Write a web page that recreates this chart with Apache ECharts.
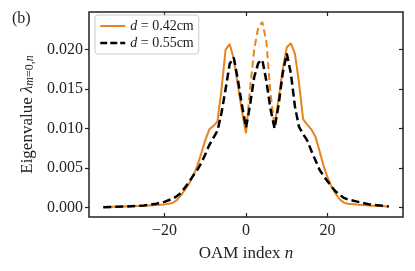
<!DOCTYPE html>
<html><head><meta charset="utf-8">
<script src="https://cdn.jsdelivr.net/npm/echarts@6/dist/echarts.min.js"></script>
<style>html,body{margin:0;padding:0;background:#fff}#c{width:415px;height:271px}</style>
</head><body><div id="c"></div>
<script>
// OAM index n
const nValues = [-35,-30,-25,-22,-20,-19,-18,-17,-16,-15,-14,-13,-12,-11,-10,-9,-8,-7,-6,-5,-4,-3,-2,-1,0,1,2,3,4,5,6,7,8,9,10,11,12,13,14,15,16,17,18,19,20,21,22,23,24,25,27,30,35];
// d = 0.42cm (solid part)
const d042 = [0.00005,0.0001,0.0002,0.0003,0.00038,0.00045,0.00055,0.0009,0.0015,0.0022,0.0030,0.0039,0.0052,0.0068,0.0085,0.0099,0.0103,0.0109,0.0150,0.0200,0.0207,0.0188,0.0155,0.0122,0.0094,null,null,null,null,null,null,0.0103,0.0138,0.0175,0.0203,0.0208,0.0195,0.0158,0.0112,0.0105,0.0099,0.0090,0.0072,0.0053,0.0038,0.0026,0.0017,0.0010,0.0006,0.00045,0.00035,0.00025,0.00012];
// d = 0.42cm (dashed central part)
const d042Center = [null,null,null,null,null,null,null,null,null,null,null,null,null,null,null,null,null,null,null,null,null,null,null,null,0.0094,0.0150,0.0200,0.0228,0.0235,0.0210,0.0145,0.0103,null,null,null,null,null,null,null,null,null,null,null,null,null,null,null,null,null,null,null,null,null];
// d = 0.55cm
const d055 = [0.00003,0.0001,0.00025,0.00047,0.0007,0.0009,0.0011,0.0014,0.0018,0.0025,0.0032,0.0040,0.0047,0.0056,0.0067,0.0079,0.0088,0.0097,0.0120,0.0150,0.0182,0.0190,0.0162,0.0130,0.0101,0.0130,0.0165,0.0183,0.0187,0.0160,0.0125,0.0100,0.0130,0.0170,0.0195,0.0170,0.0128,0.0102,0.0093,0.0085,0.0072,0.0060,0.0048,0.0040,0.0033,0.0026,0.0020,0.0016,0.0012,0.0010,0.00076,0.0004,0.00012];
const xTicks = [-20, 0, 20];
const yTicks = [0, 0.005, 0.010, 0.015, 0.020];
const seriesNames = ['d042', 'd055'];
const legendLabels = {d042: '{i|d} = 0.42cm', d055: '{i|d} = 0.55cm'};

const ORANGE = '#e8831f';
const FONT = 'Liberation Serif';
const pairs = arr => nValues.map((n, i) => [n, arr[i]]);

const chart = echarts.init(document.getElementById('c'), null, {renderer: 'canvas'});
const xRange = {min: -38.5, max: 38.5};
const yRange = {min: -0.00122, max: 0.02477};
const tickLbl = {fontFamily: FONT, fontSize: 16, color: '#222'};
const noLine = {show: false, onZero: false};

chart.setOption({
  animation: false,
  backgroundColor: '#fff',
  grid: {left: 89, right: 12, top: 12, bottom: 54, show: true, borderColor: '#222', borderWidth: 1.5, backgroundColor: 'transparent'},
  graphic: [{type: 'text', left: 12, top: 11, style: {text: '(b)', fontFamily: FONT, fontSize: 16, fill: '#222'}}],
  legend: {
    data: [
      {name: seriesNames[0], lineStyle: {color: ORANGE, width: 2, type: 'solid'}},
      {name: seriesNames[1], lineStyle: {color: '#000', width: 2.5, type: [7, 3]}}
    ],
    orient: 'vertical', left: 95, top: 15,
    padding: [4, 5, 4, 4], itemGap: 3, itemWidth: 25, itemHeight: 14,
    itemStyle: {color: 'rgba(0,0,0,0)', borderColor: 'rgba(0,0,0,0)', borderWidth: 0},
    borderColor: '#cccccc', borderWidth: 1, borderRadius: 3, backgroundColor: 'rgba(255,255,255,0.85)',
    formatter: name => legendLabels[name],
    textStyle: {fontFamily: FONT, fontSize: 14, color: '#222',
      rich: {i: {fontFamily: FONT, fontStyle: 'italic', fontSize: 14, color: '#222'}}}
  },
  xAxis: [{
    type: 'value', ...xRange, position: 'bottom',
    name: '{r|OAM index }{i|n}', nameLocation: 'middle', nameGap: 28,
    nameTextStyle: {rich: {r: {fontFamily: FONT, fontSize: 17, color: '#222'}, i: {fontFamily: FONT, fontStyle: 'italic', fontSize: 17, color: '#222'}}},
    axisLine: noLine, splitLine: {show: false},
    axisTick: {inside: true, length: 4, lineStyle: {color: '#222', width: 1.2}, customValues: xTicks},
    axisLabel: {...tickLbl, margin: 6, customValues: xTicks, formatter: v => (v < 0 ? '\u2212' + Math.abs(v) : String(v))}
  }, {
    type: 'value', ...xRange, position: 'top',
    axisLine: noLine, splitLine: {show: false}, axisLabel: {show: false},
    axisTick: {inside: true, length: 4, lineStyle: {color: '#222', width: 1.2}, customValues: xTicks}
  }],
  yAxis: [{
    type: 'value', ...yRange, position: 'left',
    name: '{r|Eigenvalue }{i|\u03bb}{s|m}{t|=0,}{s|n}', nameLocation: 'middle', nameRotate: 90, nameGap: 52,
    nameTextStyle: {rich: {
      r: {fontFamily: FONT, fontSize: 17, color: '#222'},
      i: {fontFamily: FONT, fontStyle: 'italic', fontSize: 17, color: '#222'},
      s: {fontFamily: FONT, fontStyle: 'italic', fontSize: 12, color: '#222', padding: [6, 0, 0, 0]},
      t: {fontFamily: FONT, fontSize: 12, color: '#222', padding: [6, 0, 0, 0]}
    }},
    axisLine: noLine, splitLine: {show: false},
    axisTick: {inside: false, length: 4, lineStyle: {color: '#222', width: 1.2}, customValues: yTicks},
    axisLabel: {...tickLbl, margin: 6, customValues: yTicks, formatter: v => v.toFixed(3)}
  }, {
    type: 'value', ...yRange, position: 'right',
    axisLine: noLine, splitLine: {show: false}, axisLabel: {show: false},
    axisTick: {inside: true, length: 4, lineStyle: {color: '#222', width: 1.2}, customValues: yTicks}
  }],
  series: [{
    name: 'd042', type: 'line', data: pairs(d042), showSymbol: false, symbol: 'none', connectNulls: false,
    lineStyle: {color: ORANGE, width: 2}, itemStyle: {color: ORANGE}, z: 2
  }, {
    name: 'd042c', type: 'line', data: pairs(d042Center), showSymbol: false, symbol: 'none',
    lineStyle: {color: ORANGE, width: 2, type: [7, 4]}, itemStyle: {color: ORANGE}, z: 2
  }, {
    name: 'd055', type: 'line', data: pairs(d055), showSymbol: false, symbol: 'none',
    lineStyle: {color: '#000', width: 2.5, type: [8, 4]}, itemStyle: {color: '#000'}, z: 3
  }]
});
</script></body></html>
